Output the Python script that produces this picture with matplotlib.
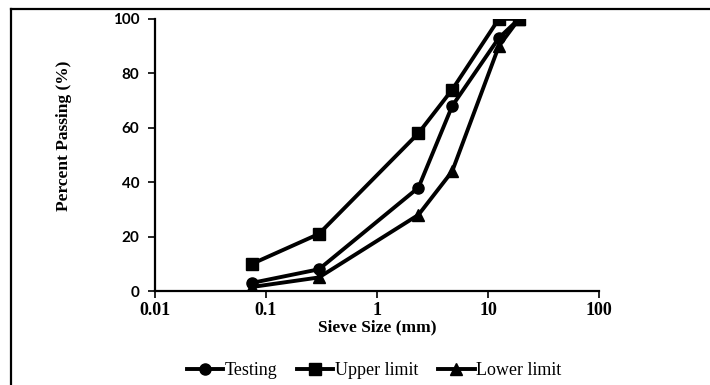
import matplotlib
matplotlib.use("Agg")
import matplotlib.pyplot as plt
from matplotlib.lines import Line2D

# sieve sizes (mm) and percent passing
sieve_mm = [0.075, 0.3, 2.36, 4.75, 12.5, 19]
testing = [3, 8, 38, 68, 93, 100]
upper_limit = [10, 21, 58, 74, 100, 100]
lower_limit = [1.5, 5, 28, 44, 90, 100]

serif = "Liberation Serif"

fig = plt.figure(figsize=(7.1, 3.85), dpi=100)
ax = fig.add_axes([0.218, 0.244, 0.626, 0.707])

lw = 2.8
ax.plot(sieve_mm, testing, color="black", lw=lw, marker="o", ms=8, label="Testing")
ax.plot(sieve_mm, upper_limit, color="black", lw=lw, marker="s", ms=8, label="Upper limit")
ax.plot(sieve_mm, lower_limit, color="black", lw=lw, marker="^", ms=8, label="Lower limit")

ax.set_xscale("log")
ax.set_xlim(0.01, 100)
ax.set_ylim(0, 100)
ax.set_xticks([0.01, 0.1, 1, 10, 100])
ax.set_xticklabels(["0.01", "0.1", "1", "10", "100"], fontfamily=serif,
                   fontweight="bold", fontsize=13)
ax.xaxis.set_minor_locator(matplotlib.ticker.NullLocator())
ax.set_yticks([0, 20, 40, 60, 80, 100])
ax.set_yticklabels(["0", "20", "40", "60", "80", "100"], fontfamily="Lato",
                   fontweight="bold", fontsize=11)

for s in ["top", "right"]:
    ax.spines[s].set_visible(False)
for s in ["left", "bottom"]:
    ax.spines[s].set_linewidth(1.6)
ax.tick_params(axis="both", direction="out", width=1.2, length=5)
ax.tick_params(axis="y", pad=6)
ax.tick_params(axis="x", pad=3)

ax.set_xlabel("Sieve Size (mm)", fontfamily=serif, fontweight="bold",
              fontsize=12.5, labelpad=0)
fig.text(64 / 710, 1 - 136 / 385, "Percent Passing (%)", rotation=90,
         ha="center", va="center", fontfamily=serif, fontweight="bold",
         fontsize=12.5)

fig.legend(loc="center", bbox_to_anchor=(0.527, 0.038), ncol=3, frameon=False,
           prop={"family": serif, "size": 13}, handlelength=2.0,
           handletextpad=0.1, columnspacing=1.1)

# frame lines at top and left of the figure
fig.add_artist(Line2D([0.0148, 1.0], [0.977, 0.977], color="black", lw=1.6,
                      transform=fig.transFigure))
fig.add_artist(Line2D([0.0148, 0.0148], [0.0, 0.977], color="black", lw=1.6,
                      transform=fig.transFigure))

fig.savefig("out.png", dpi=100)
